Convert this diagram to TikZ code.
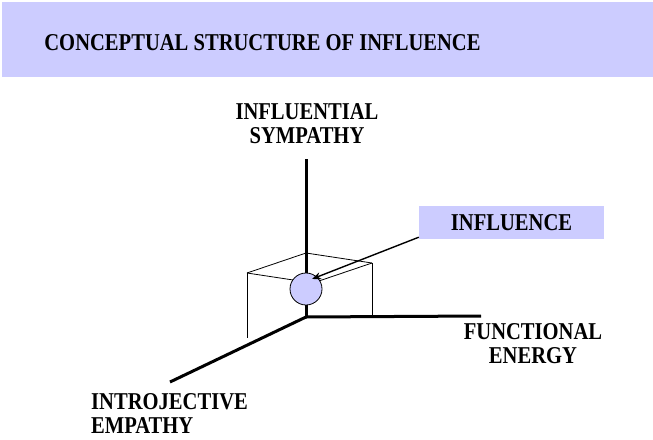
\documentclass[tikz,border=0pt]{standalone}
\usepackage{fontspec}
\usepackage{graphicx}
\setmainfont{Liberation Serif}
\usetikzlibrary{arrows.meta,calc}
\definecolor{lilac}{HTML}{CCCCFF}
% slightly taller capitals
\newcommand{\tallcaps}[1]{\scalebox{0.98}[1.15]{#1}}
\tikzset{
  lbl/.style={font=\bfseries\fontsize{21}{24}\selectfont, inner sep=0pt},
  axis/.style={line width=3pt},
  edge/.style={line width=0.8pt},
  band/.style={fill=lilac, draw=none},
}
\begin{document}
\begin{tikzpicture}[x=1pt,y=-1pt]
  \useasboundingbox (0,0) rectangle (653,439);

  % title band
  \fill[lilac] (2,2) rectangle (653,77);
  \node[lbl] (title) at (262.5,43) {\tallcaps{CONCEPTUAL STRUCTURE OF INFLUENCE}};

  % axes
  \coordinate (o) at (306,317);
  \coordinate (ytop) at (306,159);
  \coordinate (xend) at (481,316);
  \coordinate (zend) at (170,382);
  \draw[axis] (o) -- (ytop);
  \draw[axis] (o) -- (xend);
  \draw[axis] (o) -- (zend);

  % thin box around the point
  \coordinate (bk) at (306,253);
  \coordinate (lt) at (247,273);
  \coordinate (rt) at (372,263);
  \coordinate (ft) at (313,283);
  \coordinate (lb) at (247,338);
  \coordinate (rb) at (372,316);
  \draw[edge] (lt) -- (bk) -- (rt);
  \draw[edge] (lt) -- (ft) -- (rt);
  \draw[edge] (lt) -- (lb);
  \draw[edge] (rt) -- (rb);

  % the point of influence
  \node[circle, fill=lilac, draw=black, line width=0.8pt, minimum size=32pt, inner sep=0pt] (pt) at (306,289) {};

  % labelled box and its arrow
  \node[band, lbl, minimum width=185pt, minimum height=33pt] (infl) at (511.5,222.5) {\tallcaps{INFLUENCE}};
  \coordinate (start) at ($(infl.south west)+(0,-2)$);
  \coordinate (hit) at (312,279);
  \draw[line width=1.4pt, -{Stealth[length=9pt,width=7pt]}] (start) -- (hit);

  % axis labels
  \node[lbl, align=center] (ylab) at (307,124) {\tallcaps{INFLUENTIAL}\\\tallcaps{SYMPATHY}};
  \node[lbl, align=center] (xlab) at (533,344) {\tallcaps{FUNCTIONAL}\\\tallcaps{ENERGY}};
  \node[lbl, align=left, anchor=west] (zlab) at (91,413) {\tallcaps{INTROJECTIVE}\\\tallcaps{EMPATHY}};
\end{tikzpicture}
\end{document}
